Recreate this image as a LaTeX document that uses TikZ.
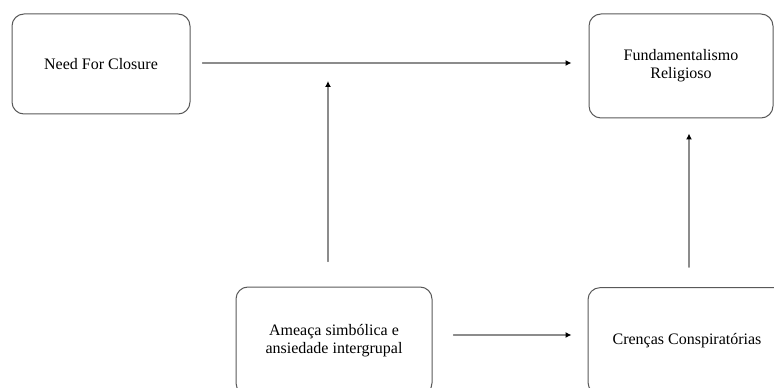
\documentclass[tikz,border=0pt]{standalone}
\usepackage{fontspec}
\setmainfont{Liberation Serif}
\usetikzlibrary{arrows.meta}
\begin{document}
\begin{tikzpicture}[
				x=0.75pt,y=-0.75pt,line join = round,line cap = round,>={Latex[length=4.5pt,width=4.5pt,color=black]},inner sep = 1mm,
				caixa/.style={rectangle,rounded corners=9pt,draw = black!65,line width=0.75pt,align=center,font=\fontsize{12}{13.6}\selectfont},
				seta/.style={->,draw = black!45,line width=0.9pt}]
				\useasboundingbox (0,0) rectangle (774,388);
				\node at (101,64) (nodeNFC) [caixa, minimum width=133.5pt, minimum height=75pt] {Need For Closure};
				\node at (681,66) (nodeFR) [caixa, minimum width=138pt, minimum height=78pt] {Fundamentalismo\\Religioso};
				\node at (334,341) (nodeAS) [caixa, minimum width=147pt, minimum height=81pt] {Ameaça simbólica e\\ansiedade intergrupal};
				\node at (687,341) (nodeCC) [caixa, minimum width=148.5pt, minimum height=80pt] {Crenças Conspiratórias};
				\coordinate (alvo) at (328,81);
				\draw[seta, shorten <=9pt, shorten >=12.75pt] ([yshift=0.75pt]nodeNFC.east) -- ([yshift=0.75pt]nodeNFC.east -| nodeFR.west);
				\draw[seta, shorten <=18.75pt] (nodeAS.north -| alvo) -- (alvo);
				\draw[seta, shorten <=15.75pt, shorten >=12pt] ([yshift=4.5pt]nodeAS.east) -- ([yshift=4.5pt]nodeAS.east -| nodeCC.west);
				\draw[seta, shorten <=15pt, shorten >=11.25pt] ([xshift=1.5pt]nodeCC.north) -- ([xshift=1.5pt]nodeCC.north |- nodeFR.south);
			\end{tikzpicture}
\end{document}
